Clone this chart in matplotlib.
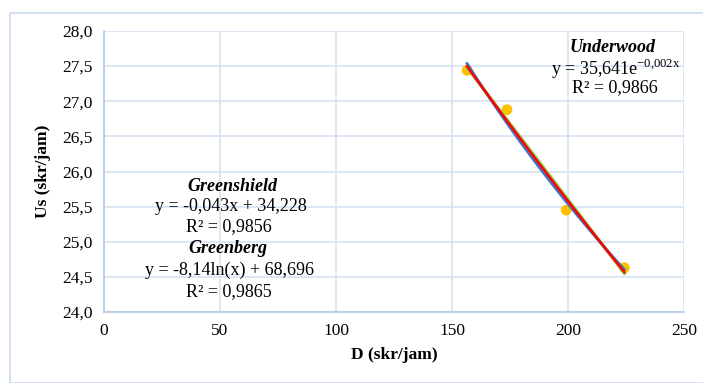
import numpy as np
import matplotlib
matplotlib.use("Agg")
import matplotlib.pyplot as plt
from matplotlib.ticker import FuncFormatter
from matplotlib.patches import Rectangle

# Data
density = [156.5, 173.7, 199.2, 224.3]
speed = [27.44, 26.88, 25.45, 24.63]
x_ticks = [0, 50, 100, 150, 200, 250]
y_ticks = [24.0, 24.5, 25.0, 25.5, 26.0, 26.5, 27.0, 27.5, 28.0]

plt.rcParams['font.family'] = ['Liberation Serif', 'DejaVu Serif']

fig = plt.figure(figsize=(7.03, 3.83), dpi=100)
fig.patches.append(Rectangle((10/703, 0), 1, 1 - 13/383, transform=fig.transFigure,
                             fill=False, edgecolor='#C9DAF0', lw=1.2))
ax = fig.add_axes([104/703, 1 - 312/383, 580/703, 281/383])

d = np.array(density)
s = np.array(speed)
xs = np.linspace(d.min(), d.max(), 50)

# Greenshield (linear)
p = np.polyfit(d, s, 1)
ax.plot(xs, np.polyval(p, xs), color='#92D050', lw=2.4, zorder=3)
# Greenberg (log)
q = np.polyfit(np.log(d), s, 1)
ax.plot(xs, q[0] * np.log(xs) + q[1], color='#4472C4', lw=2.0, zorder=4)
# Underwood (exponential)
r = np.polyfit(d, np.log(s), 1)
ax.plot(xs, np.exp(r[1]) * np.exp(r[0] * xs), color='#FF0000', lw=1.8, zorder=5)

ax.scatter(d, s, s=60, color='#FFC000', zorder=2, edgecolors='none')

ax.set_xlim(0, 250)
ax.set_ylim(24.0, 28.0)
ax.set_xticks(x_ticks)
ax.set_yticks(y_ticks)
ax.yaxis.set_major_formatter(FuncFormatter(lambda v, pos: f"{v:.1f}".replace('.', ',')))
ax.xaxis.set_major_formatter(FuncFormatter(lambda v, pos: f"{int(v)}"))
ax.grid(True, color='#D6E2F2', lw=1.2)
ax.set_axisbelow(True)
for sp in ['top', 'right']:
    ax.spines[sp].set_visible(False)
for sp in ['left', 'bottom']:
    ax.spines[sp].set_color('#B4C9E8')
    ax.spines[sp].set_linewidth(1.2)
ax.tick_params(length=0, labelsize=12.5, pad=8)
ax.set_xlabel('D (skr/jam)', fontsize=12.5, fontweight='bold', labelpad=6)
ax.set_ylabel('Us (skr/jam)', fontsize=12.5, fontweight='bold', labelpad=8)

fs = 13
ax.text(219, 27.76, 'Underwood', fontsize=fs, fontweight='bold', style='italic', ha='center', va='center')
ax.text(220.5, 27.46, r'y = 35,641e$^{\mathregular{-0{,}002x}}$', fontsize=fs, ha='center', va='center')
ax.text(220, 27.19, 'R² = 0,9866', fontsize=fs, ha='center', va='center')

ax.text(55.2, 25.78, 'Greenshield', fontsize=fs, fontweight='bold', style='italic', ha='center', va='center')
ax.text(54.7, 25.50, 'y = -0,043x + 34,228', fontsize=fs, ha='center', va='center')
ax.text(53.9, 25.22, 'R² = 0,9856', fontsize=fs, ha='center', va='center')
ax.text(53.4, 24.90, 'Greenberg', fontsize=fs, fontweight='bold', style='italic', ha='center', va='center')
ax.text(53.9, 24.60, 'y = -8,14ln(x) + 68,696', fontsize=fs, ha='center', va='center')
ax.text(53.9, 24.29, 'R² = 0,9865', fontsize=fs, ha='center', va='center')

fig.savefig('out.png', dpi=100)
